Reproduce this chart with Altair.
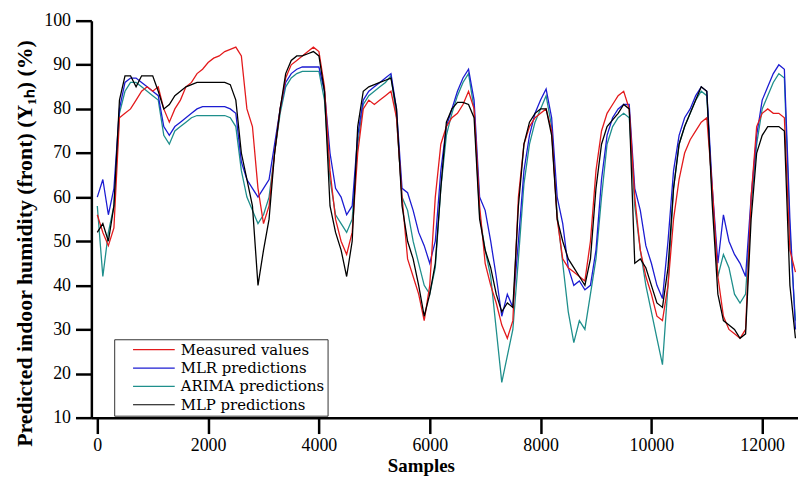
import altair as alt
import pandas as pd

samples = list(range(0, 12700, 100))

measured = [56, 52, 49, 53, 78, 79, 80, 82, 84, 85, 84, 85, 80, 77, 80, 82, 85, 86, 88, 89,
            90.5, 91.5, 92, 93, 93.5, 94, 92, 80, 76, 62, 54, 58, 70, 80, 87, 90, 91, 92, 93, 94,
            93, 85, 66, 55, 50, 47, 52, 70, 80, 82, 81, 82, 83, 84, 78, 60, 46, 42, 38, 32,
            40, 60, 72, 76, 78, 79, 81, 84, 80, 58, 45, 40, 36, 31, 28, 32, 60, 72, 76, 78,
            79, 80, 75, 55, 46, 44, 43, 42, 41, 50, 66, 75, 79, 81, 83, 84, 80, 60, 48, 42,
            38, 33, 32, 40, 55, 64, 70, 73, 75, 77, 78, 62, 42, 33, 30, 29, 28, 30, 60, 76,
            79, 80, 79, 79, 78, 48, 43]

mlr = [60, 64, 56, 62, 80, 86, 87, 87, 86, 85, 84, 83, 76, 74, 76, 77, 78, 79, 80, 80.5,
       80.5, 80.5, 80.5, 80.5, 80, 79, 68, 64, 62, 60, 62, 64, 72, 80, 86, 88, 89, 89.5, 89.5, 89.5,
       89.5, 84, 70, 62, 60, 56, 58, 74, 82, 84, 85, 86, 87, 88, 80, 62, 61, 57, 52, 49,
       45, 50, 66, 76, 80, 84, 87, 89, 82, 60, 57, 50, 42, 33, 38, 35, 50, 66, 74, 79,
       82, 84.5, 78, 60, 54, 44, 40, 41, 39, 40, 48, 64, 74, 78, 80, 81, 81, 62, 57, 49,
       45, 40, 37, 50, 66, 74, 78, 80, 83, 85, 84, 62, 45, 56, 50, 47, 45, 42, 60, 74,
       82, 85, 88, 90, 89, 55, 30]

arima = [58, 42, 52, 58, 79, 84, 86, 86, 85, 84, 83, 82, 74, 72, 75, 76, 77, 78, 78.5, 78.5,
         78.5, 78.5, 78.5, 78.5, 78, 76, 66, 60, 57, 54, 56, 60, 70, 79, 85, 87, 88, 88.5, 88.5, 88.5,
         88.5, 82, 64, 56, 54, 52, 55, 72, 81, 83, 84, 85, 86, 87.5, 78, 60, 57, 50, 45, 40,
         38, 44, 62, 74, 79, 83, 86, 88, 80, 56, 48, 42, 30, 18, 24, 30, 46, 63, 72, 77,
         80, 83, 76, 56, 45, 34, 27, 32, 30, 38, 46, 60, 72, 76, 78, 79, 78, 58, 48, 40,
         34, 28, 22, 40, 62, 72, 76, 79, 82, 84, 83, 60, 42, 47, 44, 38, 36, 38, 58, 72,
         80, 83, 86, 88, 87, 52, 32]

mlp = [52, 54, 50, 58, 82, 87.5, 87.5, 85, 87.5, 87.5, 87.5, 84, 80, 81, 83, 84, 85, 85.5, 86, 86,
       86, 86, 86, 86, 85.5, 82, 70, 64, 58, 40, 48, 55, 70, 80, 88, 91, 92, 92, 92.5, 93,
       92, 84, 58, 52, 48, 42, 50, 76, 84, 85, 85.5, 86, 86.5, 87, 80, 58, 50, 46, 40, 33,
       38, 45, 62, 77, 80, 81.5, 81.5, 81, 78, 55, 48, 44, 38, 34, 36, 35, 58, 72, 77, 79,
       80, 80, 74, 55, 50, 46, 44, 42, 40, 46, 62, 72, 76, 77.5, 79, 81, 80, 45, 46, 44,
       40, 36, 35, 44, 62, 72, 76, 79, 82, 85, 84, 58, 38, 32, 31, 30, 28, 29, 55, 70,
       74, 76, 76, 76, 75, 40, 28]

series_names = ["Measured values", "MLR predictions", "ARIMA predictions", "MLP predictions"]
series_colors = ["#e31a1c", "#1c1cd2", "#1f8f8c", "#000000"]
draw_order = ["ARIMA predictions", "MLR predictions", "Measured values", "MLP predictions"]

values_by_name = {
    "Measured values": measured,
    "MLR predictions": mlr,
    "ARIMA predictions": arima,
    "MLP predictions": mlp,
}

rows = []
for name in draw_order:
    for s, v in zip(samples, values_by_name[name]):
        rows.append({"sample": s, "value": v, "series": name})
df = pd.DataFrame(rows)

x_ticks = [0, 2000, 4000, 6000, 8000, 10000, 12000]
y_ticks = [10, 20, 30, 40, 50, 60, 70, 80, 90, 100]

chart = alt.Chart(df).mark_line(strokeWidth=1.3, clip=True).encode(
    x=alt.X("sample:Q",
            scale=alt.Scale(domain=[-107, 12646], nice=False, zero=False),
            axis=alt.Axis(values=x_ticks, title="Samples", labelPadding=3,
                          titlePadding=2, titleX=332, format="d")),
    y=alt.Y("value:Q",
            scale=alt.Scale(domain=[10, 100], nice=False, zero=False),
            axis=alt.Axis(values=y_ticks, title="Predicted indoor humidity (front) (Y\u2081\u2095) (%)",
                          titleFontSize=22, labelPadding=5, titlePadding=7, titleY=224)),
    color=alt.Color("series:N",
                    scale=alt.Scale(domain=series_names, range=series_colors),
                    legend=alt.Legend(title=None, orient="none", legendX=23, legendY=321,
                                      direction="vertical", symbolType="stroke",
                                      symbolSize=1764, symbolStrokeWidth=1.2,
                                      symbolOffset=15, clipHeight=15,
                                      labelFont="DejaVu Serif", labelFontSize=15,
                                      labelColor="black", labelOffset=5, labelLimit=300,
                                      strokeColor="#333333", fillColor="white",
                                      padding=3, rowPadding=2.5)),
    detail="series:N",
).properties(
    width=712,
    height=400,
    autosize=alt.AutoSizeParams(type="none"),
    padding={"left": 84, "top": 11, "right": 0, "bottom": 58},
).configure_view(
    stroke=None
).configure_axis(
    grid=False,
    domainColor="black",
    domainWidth=2.5,
    tickColor="black",
    tickWidth=2.5,
    tickSize=16,
    labelFont="Liberation Serif",
    labelFontSize=18,
    labelColor="black",
    titleFont="Liberation Serif",
    titleFontWeight="bold",
    titleFontSize=19,
    titleColor="black",
)

chart.save("out.html", embed_options={"renderer": "svg", "actions": False})
